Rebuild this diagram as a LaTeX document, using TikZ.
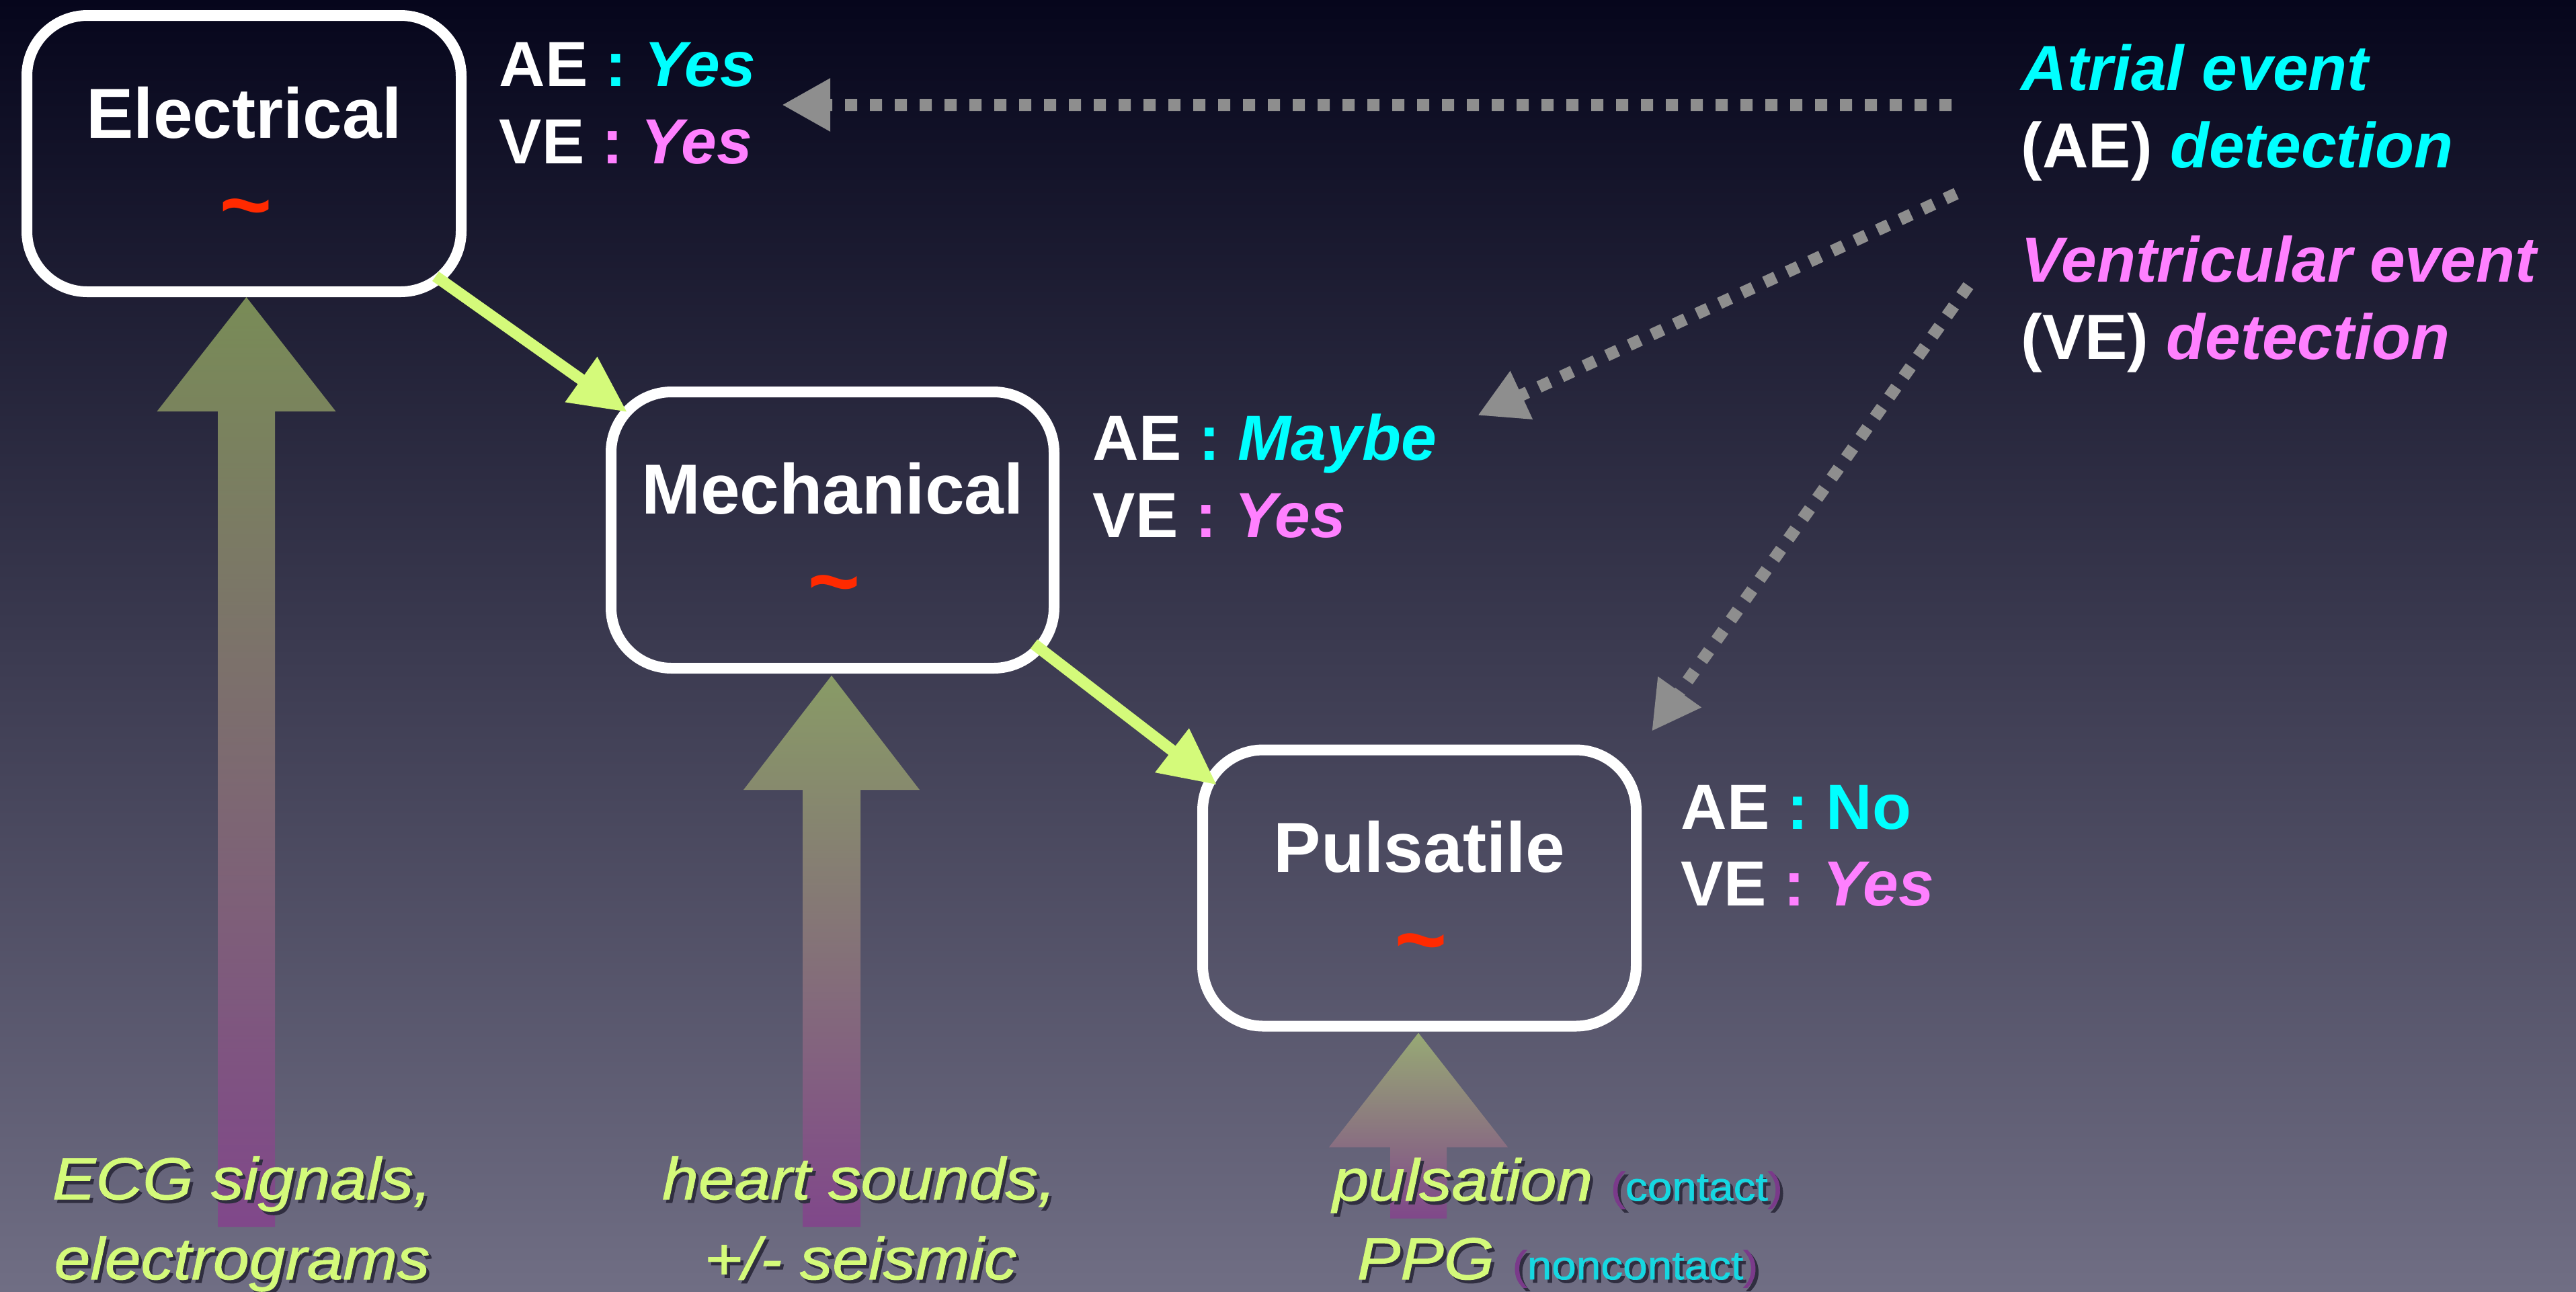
\documentclass[tikz,border=0pt]{standalone}
\usepackage{fontspec}
\setmainfont{Liberation Sans}
\newfontfamily\lowfont[FakeStretch=1.1,FakeBold=1.2]{Liberation Sans}
\usetikzlibrary{arrows.meta,calc}

\definecolor{bgtop}{RGB}{6,6,28}
\definecolor{bgmid}{RGB}{55,55,88}
\definecolor{bgbot}{RGB}{112,110,132}
\definecolor{lime}{RGB}{212,250,122}
\definecolor{aecol}{RGB}{0,255,255}
\definecolor{vecol}{RGB}{255,128,255}
\definecolor{tildered}{RGB}{255,42,0}
\definecolor{hintgray}{RGB}{142,142,142}
\definecolor{sigpurple}{RGB}{150,40,150}
\definecolor{parencol}{RGB}{122,58,138}
\definecolor{notecyan}{RGB}{22,215,225}
\definecolor{shadowc}{RGB}{48,46,64}

% colour switch that is muted inside the shadow copy
\newcommand\tint[1]{\color{#1}}
% text with a soft drop shadow below and to the right
\newcommand\shd[1]{\makebox[0pt][l]{\kern0.045cm\raisebox{-0.05cm}{%
  \renewcommand\tint[1]{}\color{shadowc}#1}}#1}

\tikzset{
  stage/.style={draw=white, line width=0.16cm, rounded corners=0.9cm,
    minimum height=4.11cm, inner sep=0pt, outer sep=0pt},
  stagename/.style={font={\bfseries\fontsize{30pt}{36pt}\selectfont}, text=white,
    anchor=base, inner sep=0pt},
  wave/.style={font={\bfseries\itshape\fontsize{38pt}{44pt}\selectfont}, text=tildered,
    anchor=base, inner sep=0pt},
  verdict/.style={font={\bfseries\fontsize{27pt}{32pt}\selectfont}, text=white,
    anchor=base west, inner sep=0pt},
  legend/.style={font={\bfseries\itshape\fontsize{27pt}{32pt}\selectfont}, text=white,
    anchor=base west, inner sep=0pt},
  source/.style={font={\lowfont\itshape\fontsize{25pt}{30pt}\selectfont}, text=lime,
    anchor=base, inner sep=0pt},
  flow/.style={draw=lime, line width=0.17cm, -{Triangle[length=0.84cm,width=0.78cm]}},
  hint/.style={draw=hintgray, line width=0.18cm, dash pattern=on 0.18cm off 0.19cm,
    -{Triangle[length=0.72cm,width=0.74cm]}},
  feed/.style={top color=lime, bottom color=sigpurple, fill opacity=0.5, draw=none}
}

\begin{document}
\begin{tikzpicture}
% canvas
\useasboundingbox (0,0) rectangle (38.32,-19.21);
\shade[top color=bgtop, middle color=bgmid, bottom color=bgbot] (0,0) rectangle (38.32,-19.21);

% the three signal stages
\node[stage, minimum width=6.46cm] (elec) at (3.63,-2.285) {};
\node[stage, minimum width=6.59cm] (mech) at (12.385,-7.885) {};
\node[stage, minimum width=6.45cm] (puls) at (21.115,-13.21) {};

% broad arrows feeding each stage from its signal sources
\shade[feed] ([xshift=0.035cm,yshift=-0.08cm]elec.south) -- ++(1.33,-1.70) -- ++(-0.905,0)
  -- ++(0,-12.13) -- ++(-0.85,0) -- ++(0,12.13) -- ++(-0.905,0) -- cycle;
\shade[feed] ([xshift=-0.015cm,yshift=-0.11cm]mech.south) -- ++(1.31,-1.70) -- ++(-0.88,0)
  -- ++(0,-6.50) -- ++(-0.86,0) -- ++(0,6.50) -- ++(-0.88,0) -- cycle;
\shade[feed] ([xshift=-0.015cm,yshift=-0.10cm]puls.south) -- ++(1.33,-1.70) -- ++(-0.91,0)
  -- ++(0,-1.06) -- ++(-0.84,0) -- ++(0,1.06) -- ++(-0.91,0) -- cycle;

% stage names
\node[stagename] (elecN) at ([yshift=0.235cm]elec.center) {Electrical};
\node[wave] (elecW) at ([yshift=-1.22cm]elec.center) {\textasciitilde};
\node[stagename] (mechN) at ([yshift=0.245cm]mech.center) {Mechanical};
\node[wave] (mechW) at ([yshift=-1.22cm]mech.center) {\textasciitilde};
\node[stagename] (pulsN) at ([yshift=0.24cm]puls.center) {Pulsatile};
\node[wave] (pulsW) at ([yshift=-1.22cm]puls.center) {\textasciitilde};

% detectability per stage
\node[verdict] (elecAE) at (7.42,-1.28) {AE {\color{aecol}: {\itshape Yes}}};
\node[verdict] (elecVE) at (7.42,-2.43) {VE {\color{vecol}: {\itshape Yes}}};
\node[verdict] (mechAE) at (16.25,-6.84) {AE {\color{aecol}: {\itshape Maybe}}};
\node[verdict] (mechVE) at (16.25,-7.99) {VE {\color{vecol}: {\itshape Yes}}};
\node[verdict] (pulsAE) at (25.00,-12.33) {AE {\color{aecol}: No}};
\node[verdict] (pulsVE) at (25.00,-13.47) {VE {\color{vecol}: {\itshape Yes}}};

% legend
\node[legend, text=aecol] (atr) at (30.06,-1.34) {Atrial event};
\node[legend] (aedet) at (30.06,-2.49) {{\upshape (AE)} {\color{aecol}detection}};
\node[legend, text=vecol] (ventr) at (30.06,-4.19) {Ventricular event};
\node[legend] (vedet) at (30.06,-5.34) {{\upshape (VE)} {\color{vecol}detection}};

% cascade between stages
\draw[flow] ([shift={(-0.38,0.23)}]elec.south east) -- ([shift={(0.24,-0.30)}]mech.north west);
\draw[flow] ([shift={(-0.30,0.36)}]mech.south east) -- ([shift={(0.21,-0.52)}]puls.north west);

% legend pointers
\draw[hint] ([shift={(-1.03,-0.22)}]atr.base west) -- ([shift={(4.21,-0.28)}]elecAE.base west);
\draw[hint] ([shift={(-0.96,-0.39)}]aedet.base west) -- ([shift={(5.73,0.66)}]mechAE.base west);
\draw[hint] ([shift={(-0.78,-0.06)}]ventr.base west) -- ([shift={(-0.43,1.45)}]pulsAE.base west);

% signal sources
\node[source] (ecg1) at (3.60,-17.84) {\shd{ECG signals,}};
\node[source] (ecg2) at (3.60,-19.03) {\shd{electrograms}};
\node[source] (hs1) at (12.78,-17.84) {\shd{heart sounds,}};
\node[source] (hs2) at (12.80,-19.03) {\shd{+/- seismic}};
\node[source] (pu1) at (23.17,-17.86) {\shd{pulsation
  {\upshape\fontsize{17pt}{20pt}\selectfont\tint{parencol}(\tint{notecyan}contact\tint{parencol})}}};
\node[source] (pu2) at (23.17,-19.03) {\shd{PPG
  {\upshape\fontsize{17pt}{20pt}\selectfont\tint{parencol}(\tint{notecyan}noncontact\tint{parencol})}}};
\end{tikzpicture}
\end{document}
